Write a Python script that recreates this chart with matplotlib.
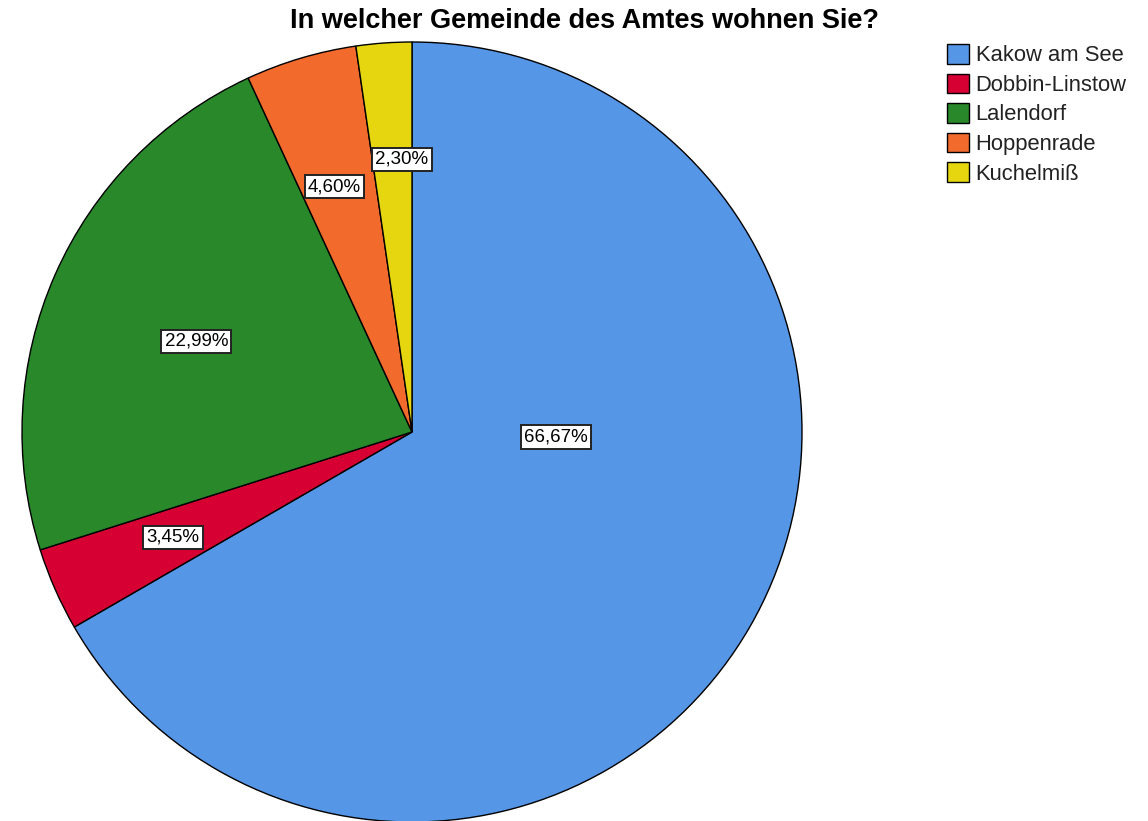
import matplotlib
matplotlib.use("Agg")
import matplotlib.pyplot as plt
import numpy as np

categories = ["Kakow am See", "Dobbin-Linstow", "Lalendorf", "Hoppenrade", "Kuchelmiß"]
values = [66.67, 3.45, 22.99, 4.60, 2.30]
labels = ["66,67%", "3,45%", "22,99%", "4,60%", "2,30%"]
colors = ["#5596E6", "#D60032", "#29882A", "#F26A2C", "#E5D60F"]
title = "In welcher Gemeinde des Amtes wohnen Sie?"

label_dist = [0.37, 0.67, 0.60, 0.66, 0.70]
label_angle_shift = [28, 0, 1, 1, -2]

plt.rcParams['font.family'] = ['Liberation Sans', 'DejaVu Sans']

fig = plt.figure(figsize=(11.48, 8.21), dpi=100)
ax = fig.add_axes([22/1148, (821-822)/821, 780/1148, 780/821])
wedges, _ = ax.pie(values, colors=colors, startangle=90, counterclock=False,
                   wedgeprops=dict(edgecolor="black", linewidth=1.0), radius=1.0)
ax.set_xlim(-1, 1)
ax.set_ylim(-1, 1)
ax.set_aspect('equal')
ax.axis('off')

for w, lab, d, sh in zip(wedges, labels, label_dist, label_angle_shift):
    ang = np.deg2rad((w.theta1 + w.theta2) / 2 + sh)
    ax.text(d*np.cos(ang), d*np.sin(ang), lab, ha='center', va='center', fontsize=13.5,
            bbox=dict(boxstyle='square,pad=0.17', facecolor='white', edgecolor='#222222', linewidth=1.4))

fig.text(585/1148, 1 - 21/821, title, ha='center', va='center', fontsize=19.5, fontweight='bold')

leg = fig.legend(wedges, categories, loc='upper left', bbox_to_anchor=(947/1148, 1 - 44/821),
                 frameon=False, fontsize=15.8, handlelength=1.0, handleheight=1.0,
                 handletextpad=0.3, labelspacing=0.33, borderaxespad=0, borderpad=0)
for t in leg.get_texts():
    t.set_color('#222222')
fig.savefig("out.png", dpi=100)
